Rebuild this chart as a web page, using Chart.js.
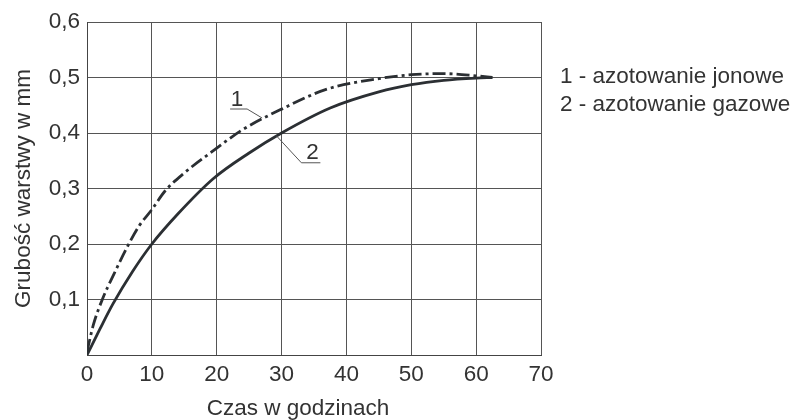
<!DOCTYPE html>
<html>
<head>
<meta charset="utf-8">
<script src="https://cdn.jsdelivr.net/npm/chart.js@4/dist/chart.umd.min.js"></script>
<style>
  html, body { margin: 0; padding: 0; background: #fff; }
  #wrap { width: 798px; height: 420px; }
</style>
</head>
<body>
<div id="wrap"><canvas id="chart" width="798" height="420"></canvas></div>
<script>
// czas w godzinach / grubość warstwy w mm
const jonoweX = [0, 1, 2.5, 4, 6, 8, 10, 12, 15, 19, 24, 30, 37, 45, 50, 55, 60, 62.5];
const jonoweY = [0.006, 0.055, 0.104, 0.142, 0.19, 0.232, 0.262, 0.295, 0.328, 0.364, 0.406, 0.443, 0.479, 0.498, 0.505, 0.507, 0.503, 0.5];

const gazoweX = [0, 2, 4, 7, 10, 14, 19.5, 25, 30, 37.5, 45, 50, 55, 60, 62.5];
const gazoweY = [0, 0.047, 0.092, 0.15, 0.2, 0.254, 0.318, 0.364, 0.4, 0.445, 0.474, 0.487, 0.495, 0.499, 0.5];

const xTickLabels = ["0", "10", "20", "30", "40", "50", "60", "70"];
const yTickLabels = ["", "0,1", "0,2", "0,3", "0,4", "0,5", "0,6"];

const legendLines = ["1 - azotowanie jonowe", "2 - azotowanie gazowe"];
const xTitle = "Czas w godzinach";
const yTitle = "Grubość warstwy w mm";

const ink = "#2b2f33";
const textColor = "#333";
const font = "Liberation Sans, Arial, sans-serif";
const fontSize = 22.5;

function toPoints(xs, ys) {
  return xs.map((x, i) => ({ x: x, y: ys[i] }));
}

// napisy: tytuły osi, legenda, oznaczenia krzywych 1 i 2
const labelsPlugin = {
  id: "labels",
  afterDraw(chart) {
    const ctx = chart.ctx;
    const xs = chart.scales.x;
    const ys = chart.scales.y;
    const area = chart.chartArea;
    ctx.save();
    ctx.fillStyle = textColor;
    ctx.font = fontSize + "px " + font;

    ctx.textAlign = "center";
    ctx.textBaseline = "middle";
    ctx.fillText(xTitle, 298, 409);

    ctx.save();
    ctx.translate(24, (area.top + area.bottom) / 2);
    ctx.rotate(-Math.PI / 2);
    ctx.fillText(yTitle, 0, 0);
    ctx.restore();

    ctx.textAlign = "left";
    legendLines.forEach((t, i) => {
      ctx.fillText(t, area.right + 19, 77 + i * 28);
    });

    // oznaczenie 1
    ctx.strokeStyle = "#555";
    ctx.lineWidth = 1;
    const p1x = xs.getPixelForValue(27), p1y = ys.getPixelForValue(0.427);
    ctx.beginPath();
    ctx.moveTo(p1x, p1y);
    ctx.lineTo(p1x - 15, p1y - 9);
    ctx.lineTo(p1x - 32, p1y - 9);
    ctx.stroke();
    ctx.textAlign = "center";
    ctx.textBaseline = "alphabetic";
    ctx.fillText("1", p1x - 25, p1y - 12);

    // oznaczenie 2
    const p2x = xs.getPixelForValue(29.2), p2y = ys.getPixelForValue(0.395);
    ctx.beginPath();
    ctx.moveTo(p2x, p2y);
    ctx.lineTo(p2x + 25, p2y + 27);
    ctx.lineTo(p2x + 44, p2y + 27);
    ctx.stroke();
    ctx.fillText("2", p2x + 36, p2y + 23);
    ctx.restore();
  }
};

new Chart(document.getElementById("chart"), {
  type: "scatter",
  data: {
    datasets: [
      {
        label: legendLines[0],
        data: toPoints(jonoweX, jonoweY),
        showLine: true,
        borderColor: ink,
        borderWidth: 2.8,
        borderDash: [13, 4, 3, 4],
        pointRadius: 0,
        cubicInterpolationMode: "monotone",
      },
      {
        label: legendLines[1],
        data: toPoints(gazoweX, gazoweY),
        showLine: true,
        borderColor: ink,
        borderWidth: 2.8,
        pointRadius: 0,
        cubicInterpolationMode: "monotone",
      },
    ],
  },
  options: {
    responsive: false,
    animation: false,
    layout: { padding: { top: 22, right: 257, bottom: 0, left: 0 } },
    plugins: { legend: { display: false }, tooltip: { enabled: false } },
    scales: {
      x: {
        type: "linear",
        min: 0,
        max: 70,
        afterFit(scale) { scale.height = 65; },
        ticks: {
          stepSize: 10,
          padding: 6,
          color: textColor,
          font: { family: font, size: fontSize },
          callback: (v) => xTickLabels[Math.round(v / 10)],
        },
        grid: { color: "#555", lineWidth: 1, drawTicks: false },
        border: { color: "#444", width: 1 },
      },
      y: {
        min: 0,
        max: 0.6,
        afterFit(scale) { scale.width = 87; },
        ticks: {
          stepSize: 0.1,
          padding: 7,
          color: textColor,
          font: { family: font, size: fontSize },
          callback: (v) => yTickLabels[Math.round(v * 10)],
        },
        grid: { color: "#555", lineWidth: 1, drawTicks: false },
        border: { color: "#444", width: 1 },
      },
    },
  },
  plugins: [labelsPlugin],
});
</script>
</body>
</html>
